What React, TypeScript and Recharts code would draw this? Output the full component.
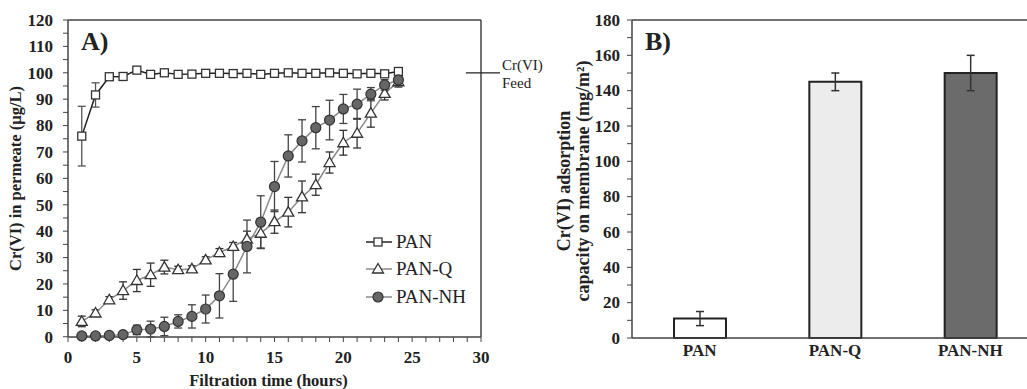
import { LineChart, Line, BarChart, Bar, Cell, XAxis, YAxis, ErrorBar, ReferenceLine, Legend, Label } from 'recharts'

const SERIF = 'Liberation Serif, DejaVu Serif, serif'

// panel A: filtration time (h) vs Cr(VI) in permeate
const HOURS = [1, 2, 3, 4, 5, 6, 7, 8, 9, 10, 11, 12, 13, 14, 15, 16, 17, 18, 19, 20, 21, 22, 23, 24]
const PAN = [76, 91.6, 98.5, 98.6, 101, 99.4, 100, 99.4, 99.5, 99.8, 99.8, 99.7, 99.8, 99.4, 99.8, 100, 99.8, 99.8, 100, 99.8, 99.6, 99.8, 99.6, 100.5]
const PAN_ERR = [11.3, 4.6, 0.8, 0.8, 0.8, 0.8, 0.8, 0.6, 0.6, 0.6, 0.6, 0.6, 0.6, 0.6, 0.6, 0.6, 0.6, 0.6, 0.6, 0.6, 0.6, 0.6, 0.6, 1]
const PAN_Q = [5.8, 9, 14, 17.5, 21.3, 23.5, 26.4, 25.4, 25.7, 29.1, 31.9, 34.2, 37, 39.2, 43.6, 47.2, 53, 57.6, 66, 73.5, 77.1, 84.7, 92.2, 96.6]
const PAN_Q_ERR = [2, 1.2, 1.2, 3.3, 4.2, 4.4, 2.6, 1.3, 1.2, 1.2, 1.5, 1.5, 3, 5.6, 4.4, 5.6, 6, 4, 4, 4.7, 5.6, 5.3, 2.5, 2]
const PAN_NH = [0.3, 0.3, 0.5, 0.8, 2.6, 2.9, 3.9, 5.8, 7.7, 10.5, 15.5, 23.7, 34.2, 43.4, 56.9, 68.5, 74.2, 79.2, 82.1, 86.3, 88.1, 91.9, 95.4, 97.3]
const PAN_NH_ERR = [0.4, 0.4, 0.5, 0.6, 1.8, 3, 3.5, 2.5, 4.4, 5.3, 8.4, 10.3, 10, 10, 9.5, 8, 8, 8, 7.5, 5.5, 5.7, 2.5, 2, 2]
const LEGEND_NAMES = ['PAN', 'PAN-Q', 'PAN-NH']
const FEED_LEVEL = 100
const FEED_SPAN = [28.9, 31.4]

// panel B: adsorption capacity
const B_CATEGORIES = ['PAN', 'PAN-Q', 'PAN-NH']
const B_VALUES = [11, 145, 150]
const B_ERR = [4, 5, 10]
const B_FILLS = ['#ffffff', '#ececec', '#6b6b6b']

const X_TICKS = Array.from({ length: 31 }, (_, i) => i)
const Y_TICKS_A = Array.from({ length: 25 }, (_, i) => i * 5)
const Y_TICKS_B = Array.from({ length: 19 }, (_, i) => i * 10)

const rowsA = HOURS.map((t, i) => ({
  t,
  pan: PAN[i], panErr: PAN_ERR[i],
  panQ: PAN_Q[i], panQErr: PAN_Q_ERR[i],
  panNH: PAN_NH[i], panNHErr: PAN_NH_ERR[i],
}))
const rowsB = B_CATEGORIES.map((name, i) => ({ name, value: B_VALUES[i], err: B_ERR[i] }))

const AXIS = { stroke: '#444', strokeWidth: 1.5 }

function Square({ cx, cy }: { cx: number; cy: number }) {
  return <rect x={cx - 4} y={cy - 4} width={8} height={8} fill="#fff" stroke="#333" strokeWidth={1.3} />
}
function Triangle({ cx, cy }: { cx: number; cy: number }) {
  return <polygon points={`${cx},${cy - 5.5} ${cx - 5.5},${cy + 4} ${cx + 5.5},${cy + 4}`} fill="#fff" stroke="#333" strokeWidth={1.3} />
}
function Circle({ cx, cy }: { cx: number; cy: number }) {
  return <circle cx={cx} cy={cy} r={5} fill="#666" stroke="#333" strokeWidth={1.2} />
}

const MARKERS = [Square, Triangle, Circle]
const LINE_COLORS = ['#222', '#8a8a8a', '#8a8a8a']

function dotOf(i: number) {
  const M = MARKERS[i]
  return (p: any) => (p.cx == null || p.cy == null ? <g key={`d${i}-${p.index}`} /> : <M key={`d${i}-${p.index}`} cx={p.cx} cy={p.cy} />)
}

function tickOf(step: number, axis: 'x' | 'y', size = 17) {
  return (p: any) => {
    if (p.payload.value % step !== 0) return <g />
    return (
      <text x={p.x} y={p.y} dy={axis === 'x' ? '0.71em' : '0.34em'} textAnchor={axis === 'x' ? 'middle' : 'end'}
        fill="#222" fontSize={size} fontWeight="bold" style={{ fontFamily: SERIF }}>
        {p.payload.value}
      </text>
    )
  }
}

function CatTick(p: any) {
  return (
    <text x={p.x} y={p.y} dy="0.71em" textAnchor="middle" fill="#222" fontSize={17} fontWeight="bold" style={{ fontFamily: SERIF }}>
      {p.payload.value}
    </text>
  )
}

function LegendBox() {
  return (
    <div style={{ fontFamily: SERIF, fontSize: 19, color: '#222' }}>
      {LEGEND_NAMES.map((name, i) => {
        const M = MARKERS[i]
        return (
          <div key={name} style={{ display: 'flex', alignItems: 'center', height: 27.5 }}>
            <svg width={28} height={14} style={{ display: 'block' }}>
              <line x1={0} y1={7} x2={26} y2={7} stroke={LINE_COLORS[i]} strokeWidth={1.5} />
              <M cx={12} cy={7} />
            </svg>
            <span style={{ marginLeft: 2 }}>{name}</span>
          </div>
        )
      })}
    </div>
  )
}

function BYLabel({ viewBox }: any) {
  const cy = viewBox.y + viewBox.height / 2 + 2
  const style = { fontFamily: SERIF, fontSize: 18, fontWeight: 'bold' as const, fill: '#222' }
  return (
    <g>
      <text x={34} y={cy} transform={`rotate(-90, 34, ${cy})`} textAnchor="middle" dominantBaseline="central" style={style}>Cr(VI) adsorption</text>
      <text x={53} y={cy} transform={`rotate(-90, 53, ${cy})`} textAnchor="middle" dominantBaseline="central" style={style}>capacity on membrane  (mg/m²)</text>
    </g>
  )
}

const LABEL_STYLE = { fontFamily: SERIF, fontSize: 16.5, fontWeight: 'bold' as const, fill: '#222' }

export default function App() {
  return (
    <div style={{ position: 'fixed', left: 0, top: 0, width: 1027, height: 389, overflow: 'hidden', background: '#fff', fontFamily: SERIF }}>
      <div style={{ position: 'absolute', left: 0, top: 0 }}>
        <LineChart width={500} height={389} data={rowsA} margin={{ top: 20, right: 19, bottom: 0, left: 0 }}>
          <XAxis type="number" dataKey="t" domain={[0, 30]} ticks={X_TICKS} interval={0} height={52}
            axisLine={AXIS} tickLine={{ stroke: '#444' }} tickSize={5} tickMargin={9} tick={tickOf(5, 'x')}>
            <Label value="Filtration time (hours)" position="insideBottom" offset={3} dx={-6} style={LABEL_STYLE} />
          </XAxis>
          <YAxis type="number" domain={[0, 120]} ticks={Y_TICKS_A} interval={0} width={68}
            axisLine={AXIS} tickLine={{ stroke: '#444' }} tickSize={5} tickMargin={10} tick={tickOf(10, 'y')}>
            <Label value="Cr(VI) in permeate (µg/L)" angle={-90} position="insideLeft" offset={15}
              style={{ ...LABEL_STYLE, textAnchor: 'middle' }} />
          </YAxis>
          <ReferenceLine y={120} stroke="#444" strokeWidth={1.5} />
          <ReferenceLine x={30} stroke="#444" strokeWidth={1.5} />
          <ReferenceLine segment={[{ x: FEED_SPAN[0], y: FEED_LEVEL }, { x: FEED_SPAN[1], y: FEED_LEVEL }]} ifOverflow="visible" stroke="#222" strokeWidth={1.3} />
          <Line dataKey="pan" stroke={LINE_COLORS[0]} strokeWidth={1.5} dot={dotOf(0)} activeDot={false} isAnimationActive={false}>
            <ErrorBar dataKey="panErr" width={4} stroke="#555" strokeWidth={1.3} direction="y" />
          </Line>
          <Line dataKey="panQ" stroke={LINE_COLORS[1]} strokeWidth={1.5} dot={dotOf(1)} activeDot={false} isAnimationActive={false}>
            <ErrorBar dataKey="panQErr" width={4} stroke="#333" strokeWidth={1.3} direction="y" />
          </Line>
          <Line dataKey="panNH" stroke={LINE_COLORS[2]} strokeWidth={1.5} dot={dotOf(2)} activeDot={false} isAnimationActive={false}>
            <ErrorBar dataKey="panNHErr" width={4} stroke="#444" strokeWidth={1.3} direction="y" />
          </Line>
          <Legend layout="vertical" align="center" verticalAlign="middle" content={<LegendBox />}
            wrapperStyle={{ left: 366, top: 228, width: 130 }} />
        </LineChart>
      </div>

      <div style={{ position: 'absolute', left: 530, top: 0 }}>
        <BarChart width={520} height={389} data={rowsB} margin={{ top: 20, right: 12, bottom: 0, left: 0 }}>
          <XAxis dataKey="name" height={51} axisLine={AXIS} tickLine={false} tickSize={0} tickMargin={6} tick={<CatTick />} />
          <YAxis type="number" domain={[0, 180]} ticks={Y_TICKS_B} interval={0} width={102}
            axisLine={AXIS} tickLine={{ stroke: '#444' }} tickSize={5} tickMargin={7} tick={tickOf(20, 'y')}>
            <Label content={<BYLabel />} />
          </YAxis>
          <ReferenceLine y={180} stroke="#444" strokeWidth={1.5} />
          <Bar dataKey="value" barSize={52} stroke="#222" strokeWidth={2} isAnimationActive={false}>
            {rowsB.map((r, i) => <Cell key={r.name} fill={B_FILLS[i]} />)}
            <ErrorBar dataKey="err" width={4} stroke="#333" strokeWidth={1.5} direction="y" />
          </Bar>
        </BarChart>
      </div>

      <svg width={1027} height={389} style={{ position: 'absolute', left: 0, top: 0, pointerEvents: 'none', fontFamily: SERIF }}>
        <text x={81} y={50} fontSize={26} fontWeight="bold" fill="#222">A)</text>
        <text x={645} y={50} fontSize={26} fontWeight="bold" fill="#222">B)</text>
        <text x={502} y={70} fontSize={15} fill="#222">Cr(VI)</text>
        <text x={502} y={88} fontSize={15} fill="#222">Feed</text>
      </svg>
    </div>
  )
}
